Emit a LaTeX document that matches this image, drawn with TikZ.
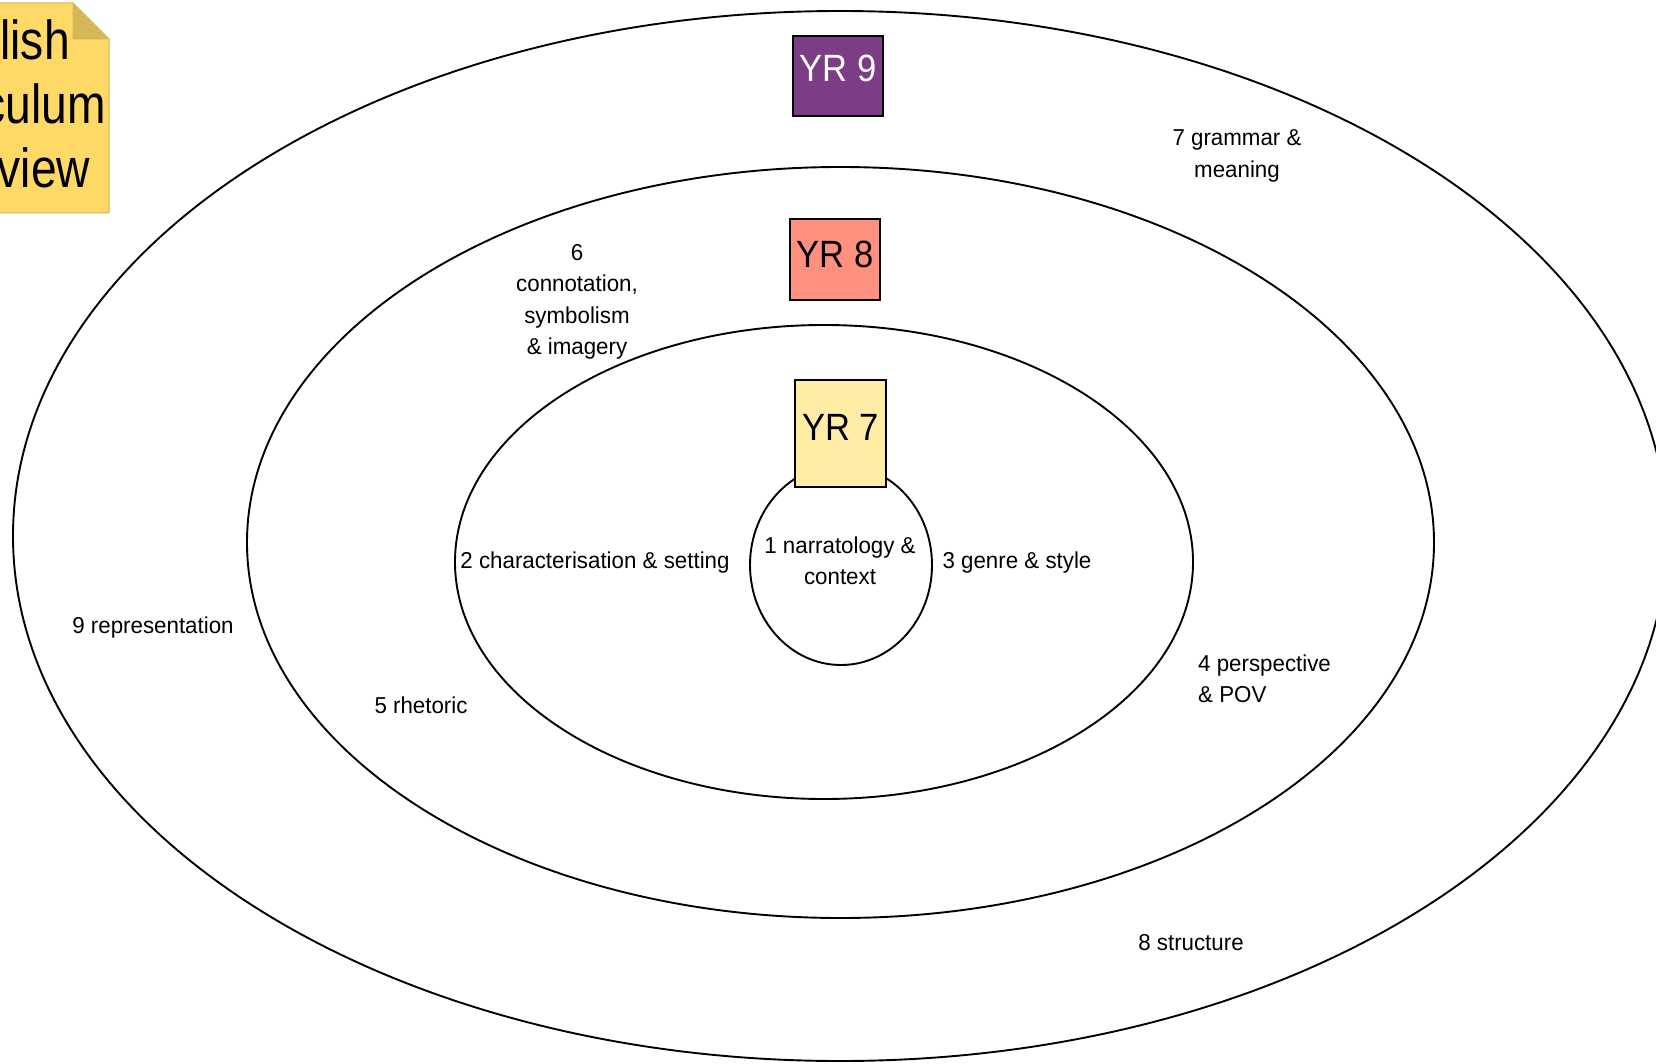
\documentclass[tikz,border=0pt]{standalone}
\usepackage{fontspec}
\setmainfont{Liberation Sans}[FakeStretch=0.97]
\newfontfamily\yrfont{Liberation Sans}[FakeStretch=0.91]
\newfontfamily\notefont{Liberation Sans}[FakeStretch=0.84]
\usetikzlibrary{shapes.geometric}
\definecolor{yrnine}{HTML}{7D3C86}
\definecolor{yreight}{HTML}{FF8F7E}
\definecolor{yrseven}{HTML}{FFEDA6}
\definecolor{notefill}{HTML}{FFD966}
\definecolor{noteline}{HTML}{D6B656}
\begin{document}
\begin{tikzpicture}[x=1pt,y=-1pt,
  ring/.style={draw=black, line width=1.9pt, ellipse, inner sep=0pt},
  yrbox/.style={draw=black, line width=1.8pt, inner sep=0pt, font=\yrfont\fontsize{38}{40}\selectfont},
  lbl/.style={inner sep=0pt, align=center, font=\fontsize{23}{31.5}\selectfont},
  lbll/.style={inner sep=0pt, align=left, font=\fontsize{23}{31.5}\selectfont},
]
\useasboundingbox (0,0) rectangle (1656,1064);
\clip (0,0) rectangle (1656,1064);
\fill[white] (0,0) rectangle (1656,1064);

% rings
\node[ring, minimum width=1654pt, minimum height=1050pt] (outer) at (840,536) {};
\node[ring, minimum width=1187pt, minimum height=751pt] (middle) at (840.5,542.5) {};
\node[ring, minimum width=738pt, minimum height=474pt] (inner) at (824,562) {};
\node[ring, minimum width=182pt, minimum height=200pt] (core) at (841,565) {};

% year boxes
\node[yrbox, fill=yrnine, text=white, minimum width=90pt, minimum height=80pt] (yr9) at (838,76) {\raisebox{16pt}{YR 9}};
\node[yrbox, fill=yreight, text=black, minimum width=90pt, minimum height=81pt] (yr8) at (835,259.5) {\raisebox{11pt}{YR 8}};
\node[yrbox, fill=yrseven, text=black, minimum width=91pt, minimum height=107pt] (yr7) at (840.5,433.5) {\raisebox{12pt}{YR 7}};

% labels
\node[lbl] (t1) at (840,561) {1 narratology \&\\context};
\node[lbl] (t2) at (595,563) {2 characterisation \& setting};
\node[lbl] (t3) at (1017,563) {3 genre \& style};
\node[lbll, anchor=west] (t4) at (1198,679) {4 perspective\\\& POV};
\node[lbl] (t5) at (421,705) {5 rhetoric};
\node[lbl] (t6) at (577,302) {6\\connotation,\\symbolism\\\& imagery};
\node[lbl] (t7) at (1237,156) {7 grammar \&\\meaning};
\node[lbl] (t8) at (1191,943) {8 structure};
\node[lbl] (t9) at (153,628) {9 representation};

% note
\filldraw[fill=notefill, draw=noteline, line width=1pt] (-120,3) -- (73,3) -- (109,39) -- (109,213) -- (-120,213) -- cycle;
\filldraw[fill=noteline, draw=noteline, line width=1pt] (73,3) -- (73,39) -- (109,39) -- cycle;
\node[inner sep=0pt, align=center, font=\notefont\fontsize{55}{64}\selectfont] (note) at (-6,104) {English\\Curriculum\\Overview};
\end{tikzpicture}
\end{document}
